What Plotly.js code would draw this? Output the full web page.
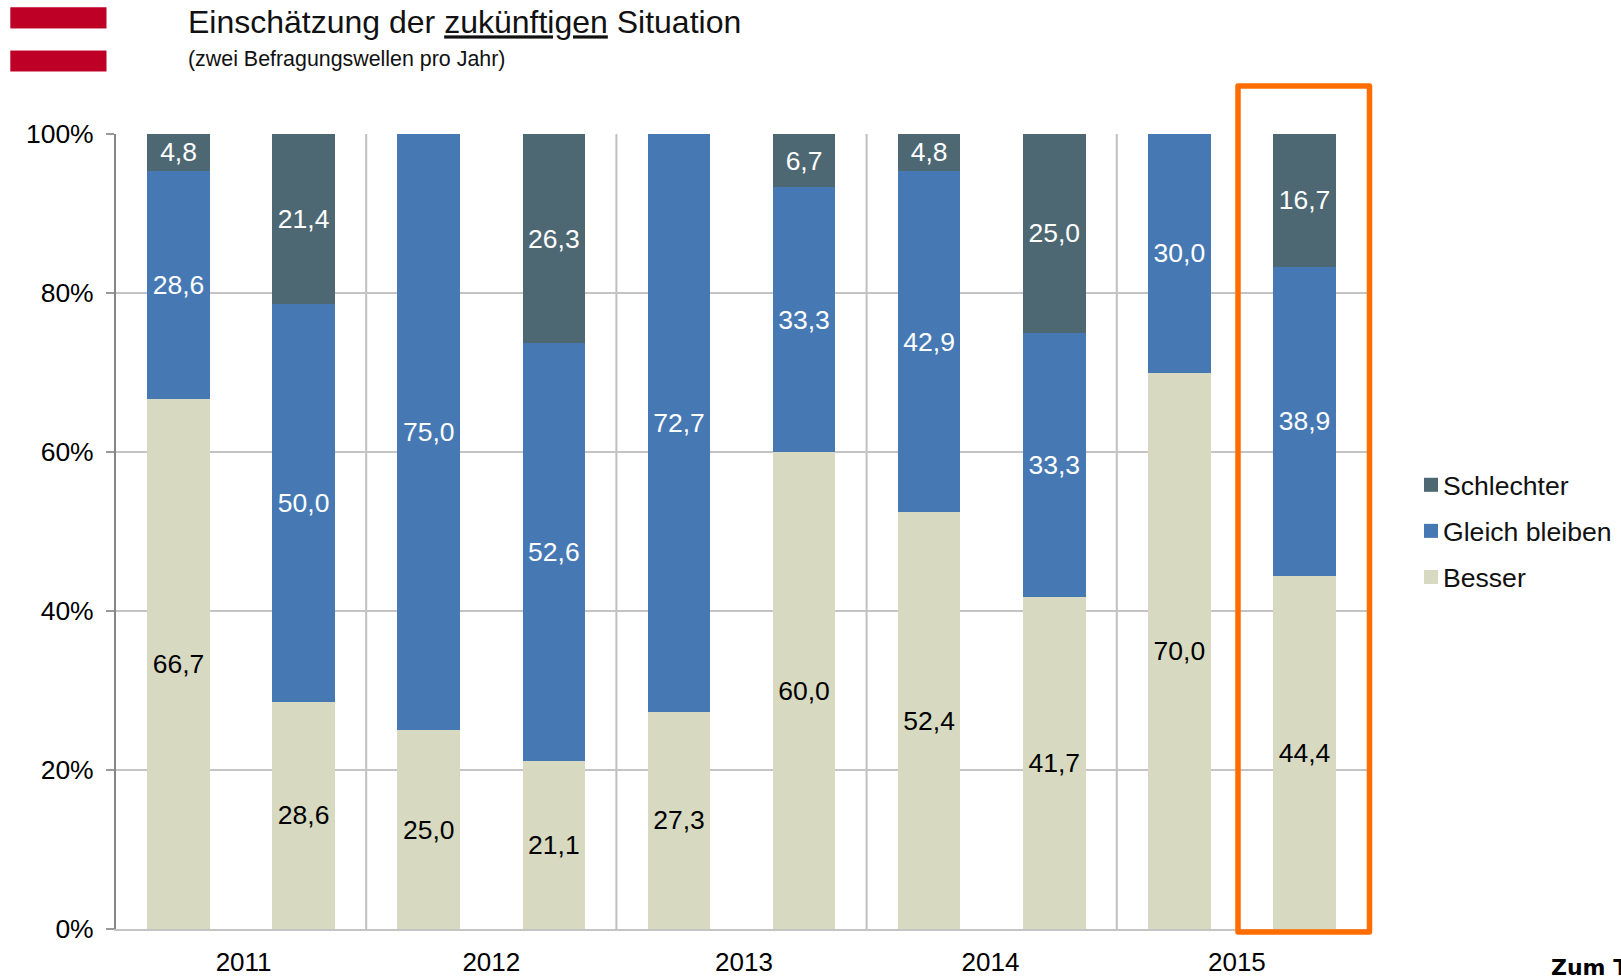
<!DOCTYPE html>
<html><head><meta charset="utf-8">
<script src="https://cdn.plot.ly/plotly-3.0.1.min.js"></script>
<style>html,body{margin:0;padding:0;background:#fff;overflow:hidden}.shapelayer path{stroke-linejoin:round}</style>
</head><body><div id="chart" style="width:1621px;height:979px"></div>
<script>
const waves = [0,1,2,3,4,5,6,7,8,9];
const yearTicks = [0.52,2.5,4.52,6.49,8.46];
const yearLabels = ['2011','2012','2013','2014','2015'];
const yearDividers = [1.5,3.5,5.5,7.5];
const besser = [66.7,28.6,25.0,21.1,27.3,60.0,52.4,41.7,70.0,44.4];
const gleich = [28.6,50.0,75.0,52.6,72.7,33.3,42.9,33.3,30.0,38.9];
const schlechter = [4.8,21.4,null,26.3,null,6.7,4.8,25.0,null,16.7];
const W = 1621, H = 979, M = {l:116,r:254,t:134,b:50};
const FONT = '"Liberation Sans", Arial, sans-serif';
const px = v => (v - M.l) / (W - M.l - M.r);
const py = v => 1 - (v - M.t) / (H - M.t - M.b);
const rect = (x0,y0,x1,y1,fill) => ({type:'rect',xref:'paper',yref:'paper',x0:px(x0),x1:px(x1),y0:py(y0),y1:py(y1),fillcolor:fill,line:{width:0},layer:'above'});
function series(name,y,color,textColor,rank){
  return {type:'bar',name,x:waves,y,legendgroup:name,legendrank:rank,marker:{color,line:{width:0}},
    texttemplate:'%{y:.1f}',textposition:'inside',insidetextanchor:'middle',textangle:0,constraintext:'none',
    textfont:{family:FONT,size:26.5,color:textColor},hoverinfo:'name+y'};
}
const data = [
  series('Besser',besser,'#D7DAC0','#000000',3),
  series('Gleich bleiben',gleich,'#4679B4','#FFFFFF',2),
  series('Schlechter',schlechter,'#4D6872','#FFFFFF',1)
];
const shapes = [
  ...yearDividers.map(x => ({type:'line',xref:'x',yref:'paper',x0:x,x1:x,y0:0,y1:1,line:{color:'#BFBFBF',width:2},layer:'below'})),
  rect(10.3,7.2,106.5,28,'#BE0027'),
  rect(10.3,28,106.5,29,'#E58A9B'),
  rect(10.3,50,106.5,51,'#E58A9B'),
  rect(10.3,51,106.5,71.5,'#BE0027'),
  {type:'rect',xref:'paper',yref:'paper',x0:px(1238),x1:px(1369.5),y0:py(86),y1:py(932),fillcolor:'rgba(0,0,0,0)',line:{color:'#FF6D00',width:5.5},layer:'above'}
];
const layout = {
  width:W,height:H,margin:M,paper_bgcolor:'#fff',plot_bgcolor:'#fff',
  barmode:'stack',bargap:0.5,separators:',.',
  font:{family:FONT,color:'#000',size:26},
  title:{text:'Einschätzung der <u>zukünftigen</u> Situation',
    font:{family:FONT,size:32,color:'#111'},xref:'container',yref:'container',x:188/W,xanchor:'left',y:1-11/H,yanchor:'top',
    pad:{t:0,l:0}},
  xaxis:{range:[-0.5,9.5],tickmode:'array',tickvals:yearTicks,ticktext:yearLabels,ticks:'',showgrid:false,zeroline:false,
    showline:true,linecolor:'#C4C4C4',linewidth:2,tickfont:{family:FONT,size:26,color:'#000'},ticklabelstandoff:9},
  yaxis:{range:[0,100],tick0:0,dtick:20,ticksuffix:'%',ticks:'outside',ticklen:8,tickcolor:'#9A9A9A',tickwidth:2,
    showgrid:true,gridcolor:'#C4C4C4',gridwidth:2,zeroline:false,showline:true,linecolor:'#868686',linewidth:2,
    tickfont:{family:FONT,size:26.5,color:'#000'},ticklabelstandoff:7},
  legend:{xref:'container',yref:'container',x:1403/W,xanchor:'left',y:1-461/H,yanchor:'top',traceorder:'grouped',tracegroupgap:8.5,
    font:{family:FONT,size:26.6,color:'#111'},bgcolor:'rgba(0,0,0,0)',itemclick:false,itemdoubleclick:false},
  annotations:[
    {xref:'paper',yref:'paper',x:px(185.5),y:py(59),xanchor:'left',yanchor:'middle',showarrow:false,align:'left',
     text:'(zwei Befragungswellen pro Jahr)',font:{family:FONT,size:21.4,color:'#111'}},
    {xref:'paper',yref:'paper',x:px(1549),y:py(967),xanchor:'left',yanchor:'middle',showarrow:false,align:'left',
     text:'<b>Zum T</b>',font:{family:'"DejaVu Sans", sans-serif',size:22,color:'#000'}}],
  shapes
};
Plotly.newPlot('chart',data,layout,{displayModeBar:false,responsive:false}).then(gd => {
  gd.querySelectorAll('.legend .legendpoints path').forEach(p => {
    const t = p.getAttribute('transform') || '';
    p.setAttribute('transform', 'translate(8,0) ' + t + ' scale(1.17)');
  });
});
</script></body></html>
